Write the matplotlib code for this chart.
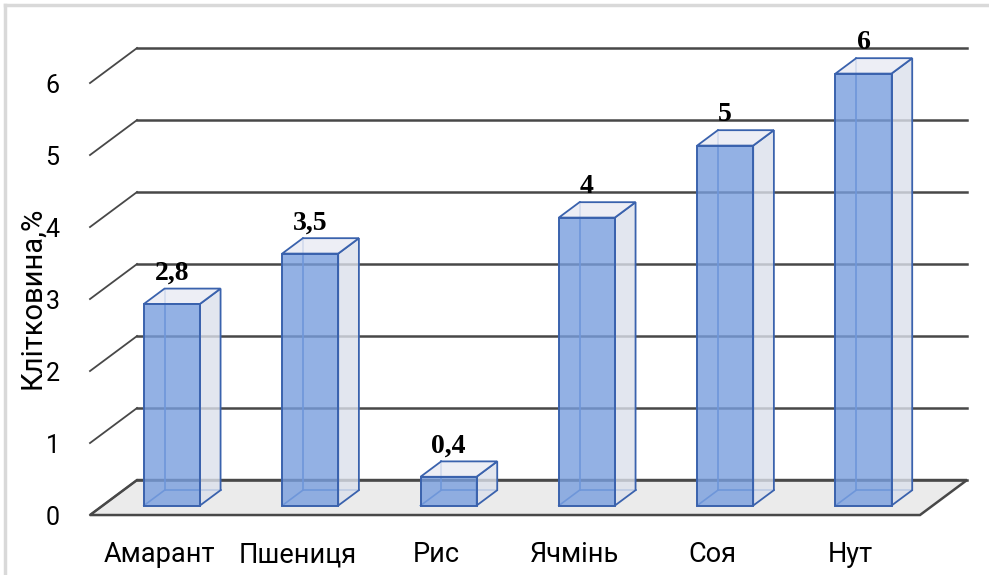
import matplotlib.pyplot as plt
from matplotlib.patches import Polygon
from matplotlib.lines import Line2D

categories = ['Амарант', 'Пшениця', 'Рис', 'Ячмінь', 'Соя', 'Нут']
fibre = [2.8, 3.5, 0.4, 4, 5, 6]
value_labels = ['2,8', '3,5', '0,4', '4', '5', '6']
y_ticks = [0, 1, 2, 3, 4, 5, 6]

# oblique depth offset of the floor (data units) and bar geometry
depth_x, depth_y = 0.34, 0.486
bar_w = 0.405
z_front, z_back = 0.27, 0.71

face_front = '#789ede'
face_side = '#dbe0eb'
face_top = '#eaecf4'
edge_blue = '#3a62ad'
grid_col = '#484848'


def proj(x, y, z):
    return (x + z * depth_x, y + z * depth_y)


fig = plt.figure(figsize=(9.89, 5.75), dpi=100)
ax = fig.add_axes([0.091, 0.1043, 0.8392, 0.7513])
ax.set_xlim(-0.5, len(categories) - 0.5)
ax.set_ylim(0, 6)
for s in ax.spines.values():
    s.set_visible(False)

x0, x1 = -0.5, len(categories) - 0.5

# floor
floor = Polygon([proj(x0, 0, 0), proj(x1, 0, 0), proj(x1, 0, 1), proj(x0, 0, 1)],
                closed=True, facecolor='#ebebeb', edgecolor=grid_col, lw=1.8,
                zorder=1, clip_on=False)
ax.add_patch(floor)

# back wall gridlines + left side diagonals
for v in y_ticks:
    xa, ya = proj(x0, v, 1)
    xb, yb = proj(x1, v, 1)
    ax.plot([xa, xb], [ya, yb], color=grid_col, lw=1.8, zorder=2, clip_on=False)
    ax.plot([x0, xa], [v, ya], color=grid_col, lw=1.3, zorder=2, clip_on=False)

# bars as transparent boxes
for i, v in enumerate(fibre):
    l, r = i - bar_w / 2, i + bar_w / 2
    # hidden edges seen through the front face
    for pts in ([(l, 0, z_back), (l, v, z_back)],
                [(l, 0, z_back), (r, 0, z_back)],
                [(l, 0, z_front), (l, 0, z_back)]):
        xs, ys = zip(*[proj(*p) for p in pts])
        ax.plot(xs, ys, color='#4a78c8', lw=1.2, zorder=3, clip_on=False)
    side = [proj(r, 0, z_front), proj(r, 0, z_back), proj(r, v, z_back), proj(r, v, z_front)]
    top = [proj(l, v, z_front), proj(r, v, z_front), proj(r, v, z_back), proj(l, v, z_back)]
    front = [proj(l, 0, z_front), proj(r, 0, z_front), proj(r, v, z_front), proj(l, v, z_front)]
    ax.add_patch(Polygon(side, facecolor=face_side, alpha=0.8, edgecolor='none',
                         zorder=4, clip_on=False))
    ax.add_patch(Polygon(side, fill=False, edgecolor=edge_blue, lw=1.3, zorder=4, clip_on=False))
    ax.add_patch(Polygon(top, facecolor=face_top, alpha=0.85, edgecolor='none',
                         zorder=4, clip_on=False))
    ax.add_patch(Polygon(top, fill=False, edgecolor=edge_blue, lw=1.3, zorder=4, clip_on=False))
    ax.add_patch(Polygon(front, facecolor=face_front, alpha=0.8, edgecolor='none',
                         zorder=5, clip_on=False))
    ax.add_patch(Polygon(front, fill=False, edgecolor=edge_blue, lw=1.4, zorder=5, clip_on=False))
    lx, _ = proj(i, v, z_front)
    _, ly = proj(i, v, z_back)
    ax.annotate(value_labels[i], (lx, ly), xytext=(0, 2), textcoords='offset points',
                ha='center', va='bottom', fontsize=20, fontweight='bold',
                family='Liberation Serif', zorder=6, annotation_clip=False)

ax.set_xticks(range(len(categories)))
ax.set_xticklabels(categories, family='Roboto', fontsize=19.5)
ax.set_yticks(y_ticks)
ax.set_yticklabels([str(t) for t in y_ticks], family='Roboto', fontsize=18)
ax.tick_params(axis='x', length=0, pad=19)
ax.tick_params(axis='y', length=0, pad=22)

fig.text(32 / 989, 1 - 298 / 575, 'Клітковина,%', rotation=90, ha='center', va='center',
         family='Roboto', fontsize=21)

# light frame of the chart area
fig.add_artist(Line2D([5 / 989, 1], [1 - 5 / 575] * 2, transform=fig.transFigure,
                      color='#d9d9d9', lw=2.5))
fig.add_artist(Line2D([5 / 989] * 2, [0, 1 - 5 / 575], transform=fig.transFigure,
                      color='#d9d9d9', lw=2.5))

fig.savefig('out.png', dpi=100)
